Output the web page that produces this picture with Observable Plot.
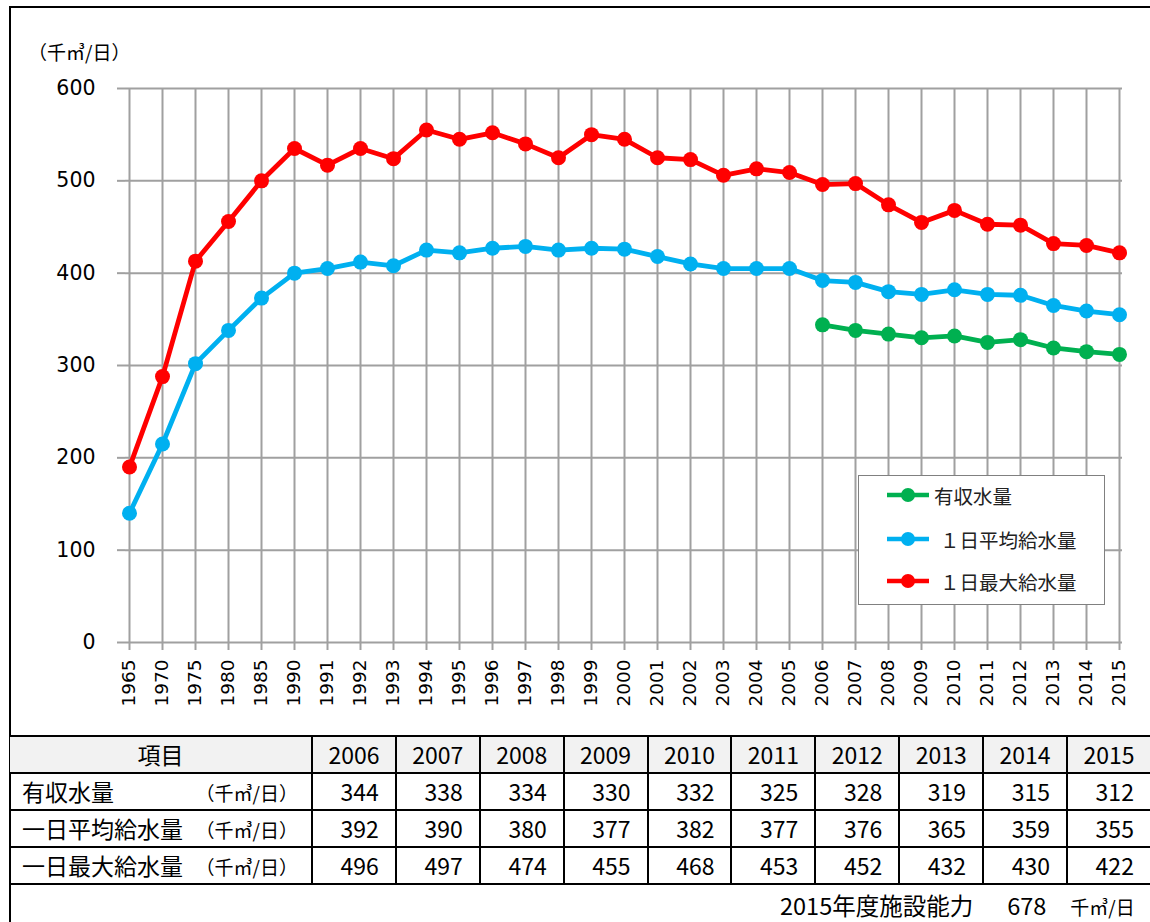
<!DOCTYPE html>
<html><head><meta charset="utf-8">
<script src="https://cdn.jsdelivr.net/npm/d3@7"></script>
<script src="https://cdn.jsdelivr.net/npm/@observablehq/plot@0.6"></script>
<style>
html,body{margin:0;padding:0;background:#fff;}
#page{position:relative;width:1150px;height:922px;overflow:hidden;font-family:"Noto Sans CJK JP",sans-serif;font-weight:400;color:#000;}
#frame{position:absolute;left:9px;top:6px;width:1200px;height:1000px;border-top:2.5px solid #000;border-left:2.5px solid #000;box-sizing:border-box;}
#chart{position:absolute;left:0;top:0;}
#unit{position:absolute;left:28px;top:38px;font-size:19px;white-space:nowrap;}
#legend{position:absolute;left:858px;top:475px;width:247px;height:130px;border:1.6px solid #808080;background:#fff;box-sizing:border-box;}
.li{position:absolute;left:27px;height:24px;display:flex;align-items:center;font-size:19.5px;color:#222;white-space:nowrap;}
.li svg{margin-right:4px;}
#tbl{position:absolute;left:10px;top:735px;border-collapse:collapse;table-layout:fixed;width:1141px;}
#tbl td{border:2.5px solid #000;padding:0;height:35px;font-size:23px;line-height:1;font-weight:400;}
#tbl tr.h td{background:#f2f2f2;text-align:center;}
#tbl td.num{text-align:right;padding-right:16px;}
#tbl td.lab{padding-left:12px;position:relative;}
#tbl td.lab span.u{position:absolute;right:13px;top:50%;transform:translateY(-50%);font-size:19px;}
#tbl td.first{border-left:none;}
#cap{position:absolute;top:888px;left:780px;font-size:23.5px;white-space:nowrap;}
#cap .u{font-size:19px;}
</style></head>
<body><div id="page">
<div id="frame"></div>
<div id="chart"></div>
<div id="unit">（千㎥/日）</div>
<div id="legend"></div>
<table id="tbl"></table>
<div id="cap"></div>
</div>
<script>
const years = ["1965","1970","1975","1980","1985","1990","1991","1992","1993","1994","1995","1996","1997","1998","1999","2000","2001","2002","2003","2004","2005","2006","2007","2008","2009","2010","2011","2012","2013","2014","2015"];
const maxSupply = [190,288,413,456,500,535,517,535,524,555,545,552,540,525,550,545,525,523,506,513,509,496,497,474,455,468,453,452,432,430,422];
const avgSupply = [140,215,302,338,373,400,405,412,408,425,422,427,429,425,427,426,418,410,405,405,405,392,390,380,377,382,377,376,365,359,355];
const revenueYears = ["2006","2007","2008","2009","2010","2011","2012","2013","2014","2015"];
const revenueWater = [344,338,334,330,332,325,328,319,315,312];
const yTicks = [0,100,200,300,400,500,600];
const seriesNames = ["有収水量","１日平均給水量","１日最大給水量"];
const seriesColors = ["#00b050","#00b0f0","#ff0000"];
const tableRowNames = ["有収水量","一日平均給水量","一日最大給水量"];
const unitText = "（千㎥/日）";
const capacityYear = "2015年度施設能力";
const capacityValue = 678;

const rowsMax = years.map((y,i)=>({year:y,value:maxSupply[i]}));
const rowsAvg = years.map((y,i)=>({year:y,value:avgSupply[i]}));
const rowsRev = revenueYears.map((y,i)=>({year:y,value:revenueWater[i]}));

const lineOpts = {x:"year",y:"value",strokeWidth:4.8};
const dotOpts = {x:"year",y:"value",r:7.5};
const axisFont = "'DejaVu Sans', Verdana, sans-serif";
const chart = Plot.plot({
  width:1150, height:730,
  marginTop:88, marginBottom:88, marginLeft:125, marginRight:28,
  style:{fontFamily:axisFont,background:"transparent",color:"#000"},
  x:{type:"point",domain:years,padding:0},
  y:{domain:[0,600]},
  marks:[
    Plot.gridX(years,{stroke:"#a0a0a0",strokeOpacity:1,strokeWidth:2}),
    Plot.gridY(yTicks,{stroke:"#a0a0a0",strokeOpacity:1,strokeWidth:2}),
    Plot.axisY({ticks:yTicks,tickSize:8,tickPadding:22,fontSize:20.5,fontFamily:axisFont,fontWeight:400,stroke:"#a0a0a0",strokeWidth:2,strokeOpacity:1,fill:"#000",label:null}),
    Plot.axisX({tickRotate:-90,tickSize:8,tickPadding:9,fontSize:18.5,fontFamily:axisFont,fontWeight:400,stroke:"#a0a0a0",strokeWidth:2,strokeOpacity:1,fill:"#000",label:null}),
    Plot.line(rowsRev,{...lineOpts,stroke:seriesColors[0]}),
    Plot.dot(rowsRev,{...dotOpts,fill:seriesColors[0]}),
    Plot.line(rowsAvg,{...lineOpts,stroke:seriesColors[1]}),
    Plot.dot(rowsAvg,{...dotOpts,fill:seriesColors[1]}),
    Plot.line(rowsMax,{...lineOpts,stroke:seriesColors[2]}),
    Plot.dot(rowsMax,{...dotOpts,fill:seriesColors[2]})
  ]
});
document.getElementById("chart").appendChild(chart);

// legend
const lg = document.getElementById("legend");
const legTops = [7,51,93];
seriesNames.forEach((n,i)=>{
  const d = document.createElement("div");
  d.className="li"; d.style.top = legTops[i]+"px";
  d.innerHTML = `<svg width="44" height="16"><line x1="1" y1="8" x2="43" y2="8" stroke="${seriesColors[i]}" stroke-width="4.5"/><circle cx="22" cy="8" r="7" fill="${seriesColors[i]}"/></svg>` + `<span style="margin-left:${i===0?0:6}px">${n}</span>`;
  lg.appendChild(d);
});

// table
const tbl = document.getElementById("tbl");
const colg = document.createElement("colgroup");
colg.innerHTML = `<col style="width:302px">` + revenueYears.map(()=>`<col style="width:83.9px">`).join("");
tbl.appendChild(colg);
const hr = document.createElement("tr"); hr.className="h";
hr.innerHTML = `<td class="first">項目</td>` + revenueYears.map(y=>`<td>${y}</td>`).join("");
tbl.appendChild(hr);
const tableData = [revenueWater, revenueYears.map(y=>avgSupply[years.indexOf(y)]), revenueYears.map(y=>maxSupply[years.indexOf(y)])];
tableRowNames.forEach((n,i)=>{
  const tr = document.createElement("tr");
  tr.innerHTML = `<td class="lab first">${n}<span class="u">${unitText}</span></td>` + tableData[i].map(v=>`<td class="num">${v}</td>`).join("");
  tbl.appendChild(tr);
});
document.getElementById("cap").innerHTML = `${capacityYear}<span style="display:inline-block;width:34px"></span>${capacityValue}<span style="display:inline-block;width:24px"></span><span class="u">千㎥/日</span>`;
</script>
</body></html>
